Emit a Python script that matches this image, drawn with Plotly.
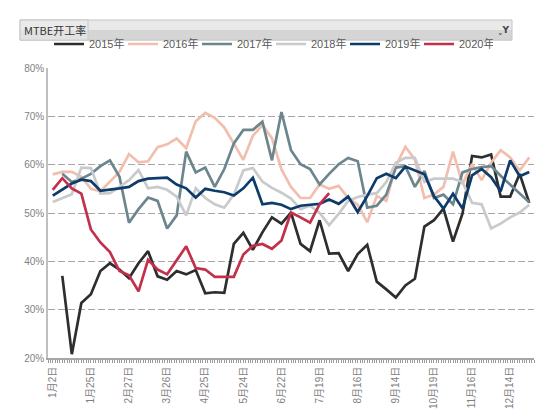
import plotly.graph_objects as go

# weekly categories (only every 4th is labelled on the axis)
dates = [
    "1月2日", "1月9日", "1月12日", "1月19日", "1月25日", "2月1日", "2月8日",
    "2月20日", "2月27日", "3月6日", "3月13日", "3月19日", "3月26日", "4月3日",
    "4月10日", "4月17日", "4月25日", "5月3日", "5月10日", "5月17日", "5月24日",
    "5月31日", "6月7日", "6月14日", "6月22日", "6月28日", "7月5日", "7月12日",
    "7月19日", "7月26日", "8月2日", "8月9日", "8月16日", "8月23日", "8月30日",
    "9月6日", "9月14日", "9月21日", "9月28日", "10月12日", "10月19日",
    "10月26日", "11月2日", "11月9日", "11月16日", "11月23日", "11月30日",
    "12月7日", "12月14日", "12月21日", "12月28日"]

y2015 = [None, 37.0, 20.8, 31.4, 33.2, 38.0, 39.6, 38.3, 36.5, 39.6, 42.1,
         36.9, 36.2, 38.0, 37.3, 38.2, 33.4, 33.6, 33.5, 43.6, 45.9, 42.4,
         46.0, 49.1, 47.8, 50.1, 43.6, 42.1, 48.5, 41.6, 41.7, 38.0, 41.5,
         43.4, 35.8, 34.2, 32.5, 35.0, 36.4, 47.2, 48.5, 50.9, 44.1, 49.9,
         61.8, 61.5, 62.1, 53.4, 53.4, 58.1, 52.1]
y2016 = [58.0, 58.5, 58.5, 57.5, 55.0, 54.5, 56.5, 58.5, 62.2, 60.5, 60.7,
         63.6, 64.2, 65.4, 63.4, 69.0, 70.7, 69.7, 67.7, 64.4, 61.0, 66.0,
         68.2, 65.5, 59.0, 55.4, 53.1, 53.1, 55.9, 55.0, 55.6, 53.1, 51.7,
         48.1, 53.5, 52.5, 59.7, 63.7, 61.1, 53.1, 53.8, 55.4, 62.7, 56.0,
         60.1, 56.8, 60.4, 63.0, 61.5, 58.8, 61.5]
y2017 = [None, 58.1, 56.4, 57.1, 58.1, 59.7, 60.9, 57.5, 48.0, 50.8, 53.2,
         52.5, 46.8, 49.5, 62.7, 58.4, 59.4, 55.4, 59.1, 64.4, 67.2, 67.2,
         68.9, 60.9, 70.9, 63.0, 60.1, 59.1, 55.9, 58.1, 60.1, 61.4, 60.7,
         51.1, 51.5, 53.8, 59.4, 59.7, 55.4, 58.7, 53.1, 53.8, 51.8, 58.4,
         59.1, 59.5, 59.7, 57.7, 55.8, 54.1, 52.2]
y2018 = [52.3, 53.1, 53.9, 59.4, 59.3, 54.0, 54.1, 55.4, 56.8, 58.9, 55.1,
         55.4, 54.8, 53.4, 49.5, 55.1, 53.1, 51.8, 51.1, 53.8, 58.8, 59.3,
         56.5, 55.2, 54.2, 53.0, 50.8, 51.5, 50.0, 47.5, 49.8, 52.5, 53.3,
         53.8, 54.1, 56.4, 60.4, 61.4, 61.4, 56.4, 57.1, 57.1, 57.1, 56.4,
         52.1, 51.8, 46.8, 47.8, 49.1, 50.1, 51.7]
y2019 = [53.6, 54.8, 56.1, 56.9, 56.6, 54.6, 54.8, 55.1, 55.4, 56.6, 57.1,
         57.2, 57.3, 55.9, 55.1, 53.2, 55.0, 54.6, 54.3, 53.6, 55.1, 57.3,
         51.8, 52.1, 51.7, 50.8, 51.5, 51.7, 51.9, 52.8, 51.9, 53.4, 50.2,
         53.5, 57.2, 58.1, 57.2, 59.6, 58.8, 58.0, 53.5, 50.9, 54.0, 50.9,
         57.8, 59.1, 57.4, 54.5, 60.9, 57.6, 58.5]
y2020 = [54.8, 57.2, 55.1, 54.0, 46.6, 43.9, 41.9, 38.0, 37.1, 33.8, 40.3,
         38.3, 37.3, 40.2, 43.1, 38.6, 38.3, 36.8, 36.8, 36.8, 41.4, 43.2,
         43.6, 42.6, 44.3, 50.1, 49.1, 48.0, 51.8, 54.1]

series = [
    ("2015年", y2015, "#2e2e2e"),
    ("2016年", y2016, "#f2bfae"),
    ("2017年", y2017, "#6c868e"),
    ("2018年", y2018, "#c8cacb"),
    ("2019年", y2019, "#0d3b6a"),
    ("2020年", y2020, "#c2304b"),
]

W, H = 550, 413
ML, MR, MT, MB = 40, 24, 60, 51
PW, PH = W - ML - MR, H - MT - MB

# week position along the axis, labels come from dates
week = list(range(len(dates)))
label_every = 4
tick_names = {str(w): d for w, d in zip(week[::label_every], dates[::label_every])}


def px(x):
    return (x - ML) / PW


def py(y):
    return (H - MB - y) / PH


fig = go.Figure()
for name, vals, color in series:
    fig.add_trace(go.Scatter(
        x=week[:len(vals)], y=vals, name=name, mode="lines",
        text=dates[:len(vals)], hovertemplate="%{text}: %{y}%",
        line=dict(color=color, width=2.7), connectgaps=False))

FONT = "Liberation Sans, Noto Sans CJK SC, sans-serif"

fig.update_layout(
    width=W, height=H,
    margin=dict(l=ML, r=MR, t=MT, b=MB),
    paper_bgcolor="white", plot_bgcolor="white",
    font=dict(family=FONT, size=10, color="#7f7f7f"),
    showlegend=True,
    legend=dict(
        orientation="h", x=px(41), xanchor="left", y=py(35),
        yanchor="middle", font=dict(size=11, color="#595959"),
        entrywidth=29, entrywidthmode="pixels", itemwidth=30,
        bgcolor="rgba(0,0,0,0)"),
    xaxis=dict(
        tickmode="linear", tick0=0, dtick=label_every, labelalias=tick_names,
        tickangle=-90, tickfont=dict(size=10, color="#7f7f7f"),
        showgrid=False, showline=True, linecolor="#a6a6a6", linewidth=1.5,
        zeroline=False, ticks="outside", ticklen=3, tickcolor="#9a9a9a",
        tickwidth=1, range=[-0.5, len(dates) - 0.5],
        minor=dict(ticks="outside", ticklen=3, tickcolor="#9a9a9a",
                   tickwidth=1, tick0=0, dtick=0.25)),
    yaxis=dict(
        range=[20, 80], dtick=10, ticksuffix="%",
        tickfont=dict(size=10, color="#7f7f7f"),
        showgrid=True, gridcolor="#a6a6a6", griddash="7px,3px", gridwidth=1,
        showline=True, linecolor="#bfbfbf", linewidth=1.5, zeroline=False,
        ticks=""),
)

# title bar above the chart
shapes = [
    dict(type="rect", xref="paper", yref="paper", x0=px(12), x1=px(504),
         y0=py(20.5), y1=py(10), fillcolor="#e9e9e9", line=dict(width=0),
         layer="below"),
    dict(type="rect", xref="paper", yref="paper", x0=px(12), x1=px(504),
         y0=py(31), y1=py(20.5), fillcolor="#d5d5d5", line=dict(width=0),
         layer="below"),
    dict(type="rect", xref="paper", yref="paper", x0=px(12), x1=px(504),
         y0=py(31), y1=py(10), fillcolor="rgba(0,0,0,0)",
         line=dict(color="#c4c4c4", width=1)),
    dict(type="rect", xref="paper", yref="paper", x0=px(12), x1=px(80),
         y0=py(31), y1=py(10), fillcolor="rgba(235,235,235,0.6)",
         line=dict(color="#c9c9c9", width=1)),
    dict(type="line", xref="paper", yref="paper", x0=px(548.5), x1=px(548.5),
         y0=py(0), y1=py(H), line=dict(color="#4a4a4a", width=2)),
]
fig.update_layout(shapes=shapes)

fig.add_annotation(
    xref="paper", yref="paper", x=px(14), y=py(20.5), xanchor="left",
    yanchor="middle", text="MTBE开工率", showarrow=False,
    font=dict(family="Noto Sans CJK SC", size=11, color="#333333"))
fig.add_annotation(
    xref="paper", yref="paper", x=px(496), y=py(20), xanchor="center",
    yanchor="middle", text="<b>ˬY</b>", showarrow=False,
    font=dict(family="DejaVu Sans", size=9, color="#444444"))

fig.write_html("out.html")
